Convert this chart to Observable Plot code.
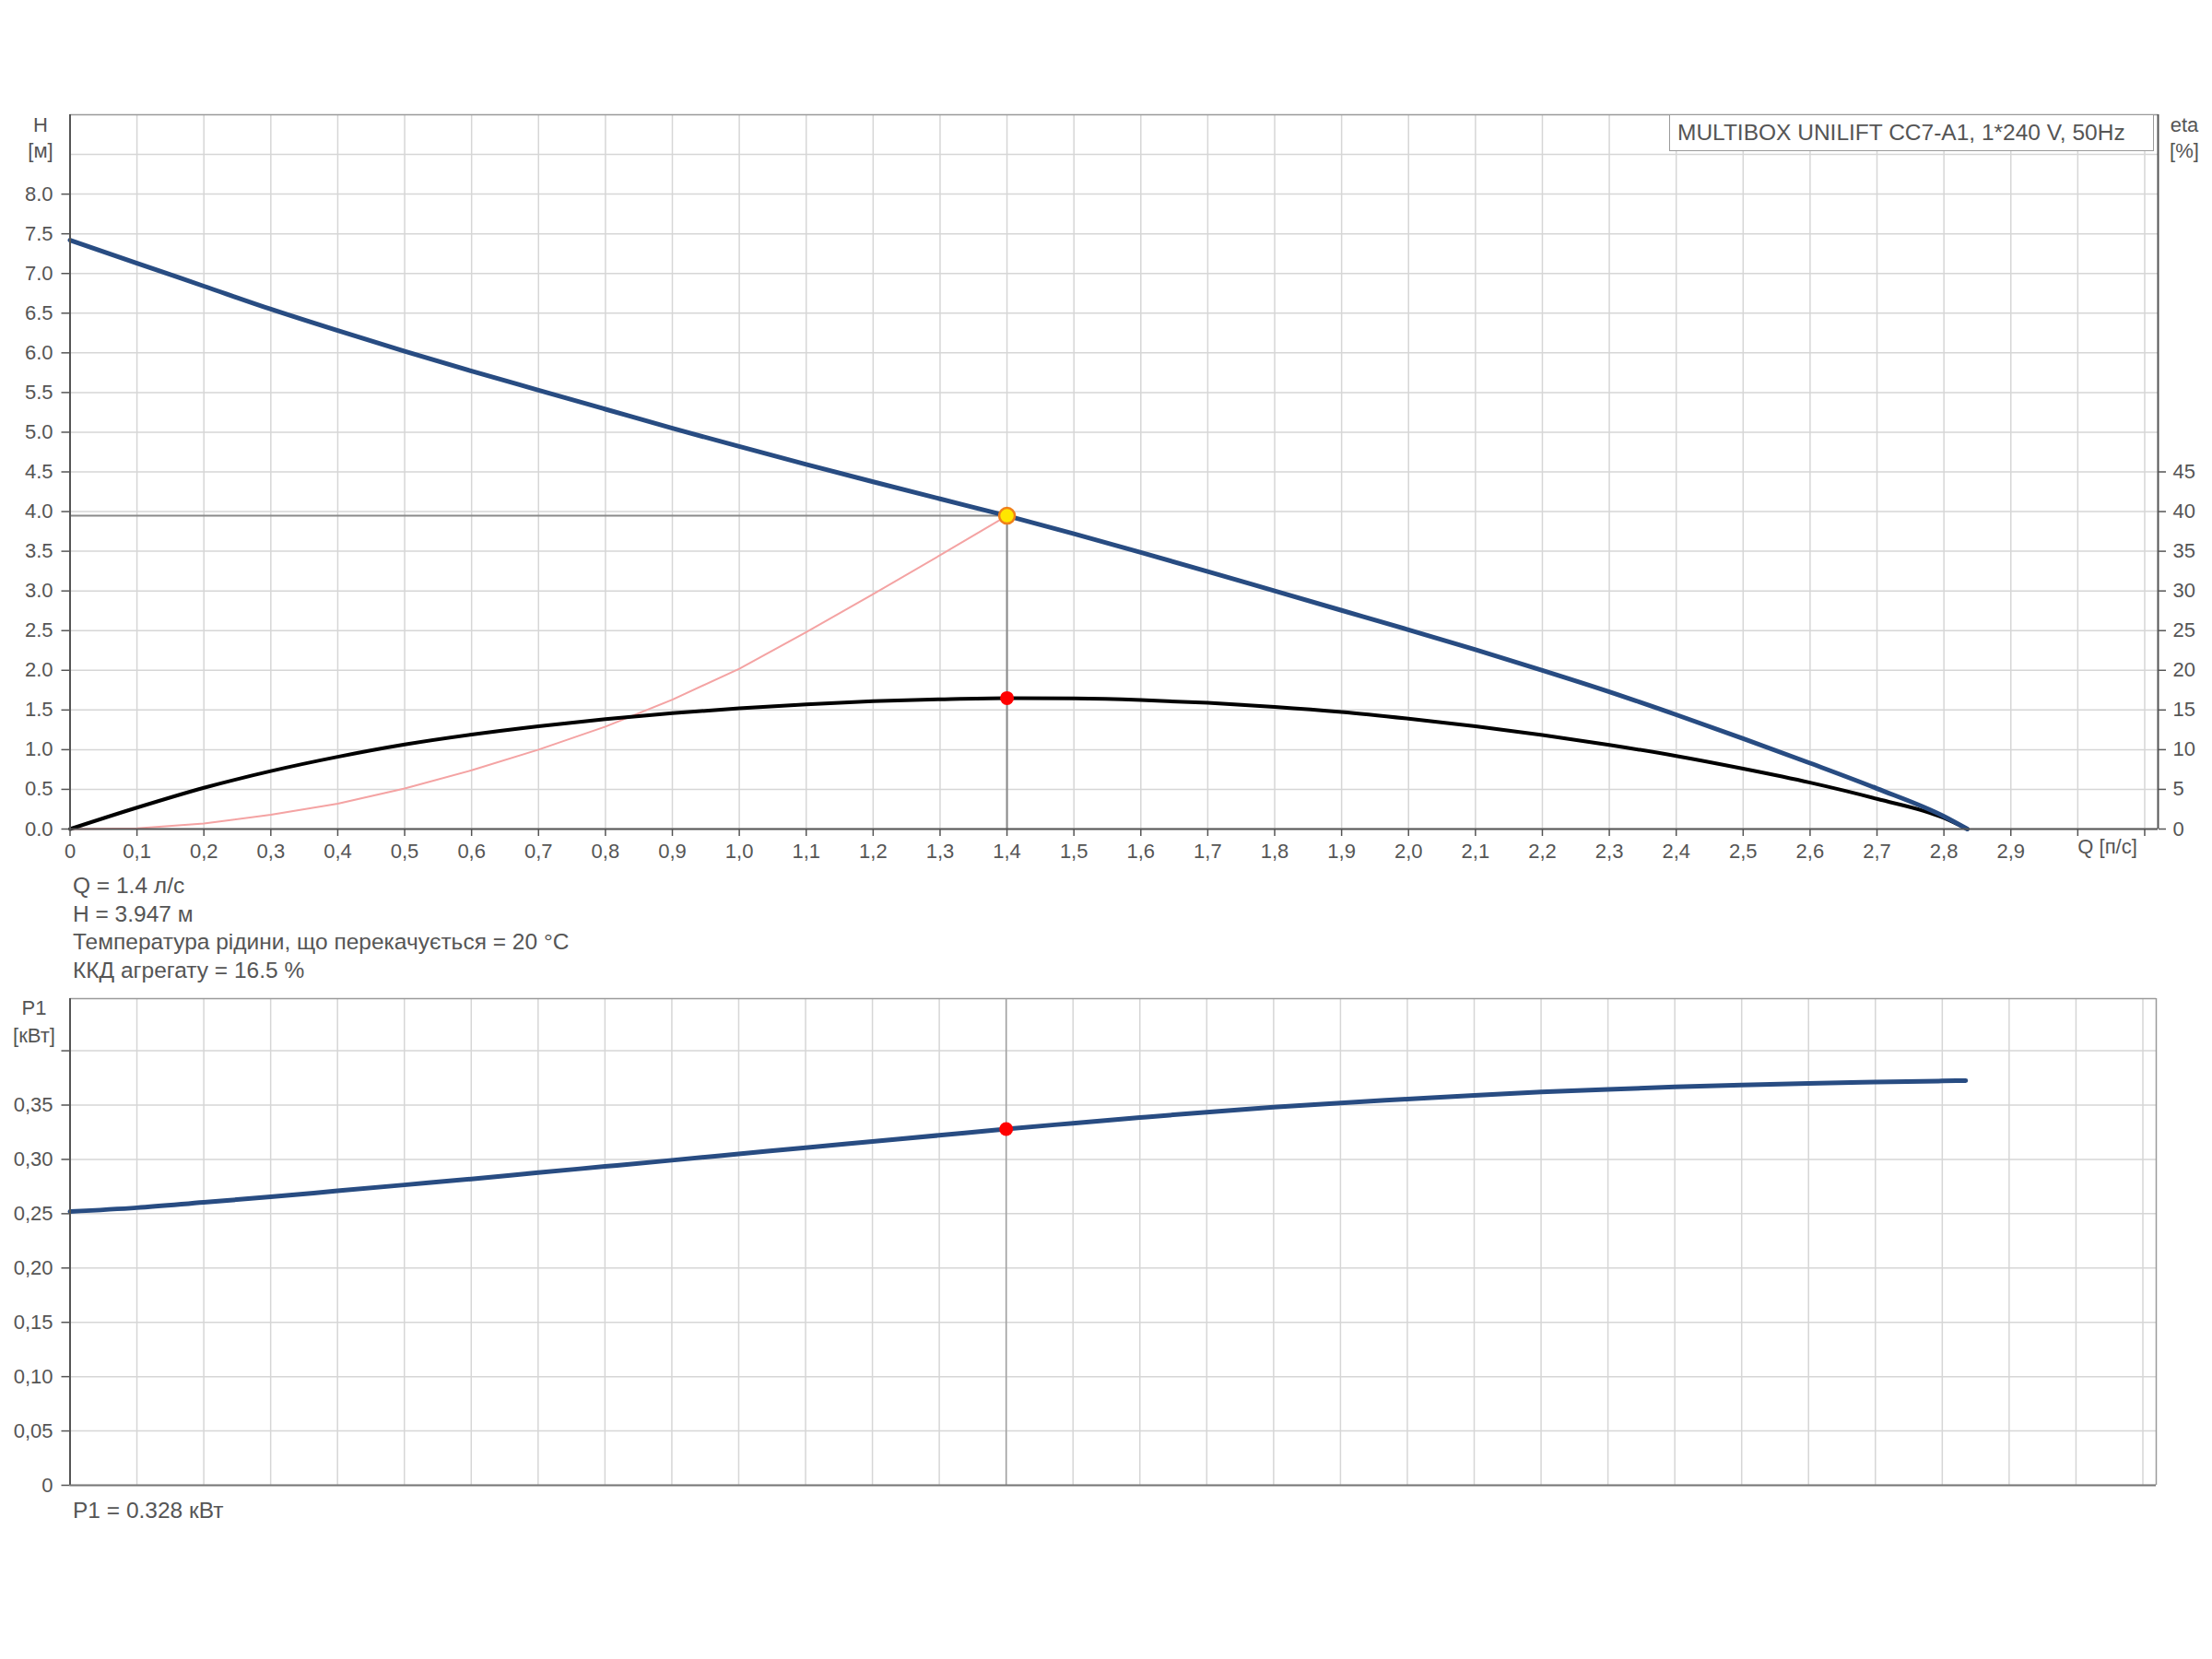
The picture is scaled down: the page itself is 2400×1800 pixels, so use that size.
<!DOCTYPE html>
<html><head><meta charset="utf-8">
<script src="https://cdn.jsdelivr.net/npm/d3@7"></script>
<script src="https://cdn.jsdelivr.net/npm/@observablehq/plot@0.6"></script>
<style>
body{margin:0;background:#fff;width:2400px;height:1800px;position:relative;font-family:"Liberation Sans",Arial,sans-serif;color:#555;overflow:hidden}
.abs{position:absolute;white-space:nowrap}
.c{transform:translate(-50%,-50%);line-height:1;font-size:22px}
.info{font-size:24.5px;line-height:1;transform:translateY(-50%)}
</style></head><body>
<div id="topHost" class="abs" style="left:0;top:0"></div>
<div id="bottomHost" class="abs" style="left:0;top:1040px"></div>
<script>
// ---- data ----
const qH   = [0,0.1,0.2,0.3,0.4,0.5,0.6,0.7,0.8,0.9,1.0,1.1,1.2,1.3,1.4,1.5,1.6,1.7,1.8,1.9,2.0,2.1,2.2,2.3,2.4,2.5,2.6,2.7,2.8,2.835];
const headH = [7.42,7.13,6.84,6.55,6.28,6.02,5.77,5.53,5.29,5.05,4.82,4.595,4.375,4.16,3.947,3.72,3.485,3.245,3.00,2.755,2.51,2.26,2.00,1.73,1.44,1.14,0.83,0.51,0.16,0];
const etaPct = [0,2.7,5.2,7.3,9.1,10.65,11.9,12.95,13.85,14.6,15.2,15.7,16.1,16.35,16.5,16.45,16.25,15.9,15.4,14.75,13.9,12.95,11.85,10.6,9.2,7.6,5.85,3.8,1.4,0];
const p1kW  = [0.252,0.2555,0.2605,0.2655,0.271,0.2765,0.282,0.2878,0.2935,0.2992,0.305,0.3108,0.3165,0.3222,0.328,0.3333,0.3385,0.3435,0.348,0.352,0.3555,0.359,0.362,0.3645,0.3667,0.3685,0.370,0.3712,0.3722,0.3725];
const qSys  = [0,0.1,0.2,0.3,0.4,0.5,0.6,0.7,0.8,0.9,1.0,1.1,1.2,1.3,1.4];
const hSys  = [0,0.01,0.07,0.18,0.32,0.51,0.74,1.0,1.29,1.63,2.02,2.48,2.96,3.45,3.947];
const opQ = 1.4, opH = 3.947, opEta = 16.5, opP1 = 0.328;

const xTicks = [0,0.1,0.2,0.3,0.4,0.5,0.6,0.7,0.8,0.9,1.0,1.1,1.2,1.3,1.4,1.5,1.6,1.7,1.8,1.9,2.0,2.1,2.2,2.3,2.4,2.5,2.6,2.7,2.8,2.9,3.0,3.1];
const hTicks = [0,0.5,1,1.5,2,2.5,3,3.5,4,4.5,5,5.5,6,6.5,7,7.5,8];
const hGrid  = [0,0.5,1,1.5,2,2.5,3,3.5,4,4.5,5,5.5,6,6.5,7,7.5,8,8.5];
const etaTicks = [0,5,10,15,20,25,30,35,40,45];
const pTicks = [0,0.05,0.10,0.15,0.20,0.25,0.30,0.35,0.40];
const qAxisLabel = "Q [п/с]";

const curveData = qH.map((q,i)=>({q, h:headH[i], eta:etaPct[i], p:p1kW[i]}));
const sysData = qSys.map((q,i)=>({q, h:hSys[i]}));

const FONT = '"Liberation Sans", Arial, sans-serif';
const GRID = "#d6d6d6", AXIS = "#555", BLUE = "#284c82";
const xDomain = [0, 3.12];
const comma = d => d===0 ? "0" : d.toFixed(1).replace(".", ",");

const topChart = Plot.plot({
  width: 2400, height: 950,
  marginLeft: 75.5, marginRight: 59, marginTop: 124, marginBottom: 51,
  style: {fontFamily: FONT, fontSize: "22px", color: "#555", background: "transparent", overflow: "visible"},
  x: {domain: xDomain, axis: null},
  y: {domain: [0, 9], axis: null},
  marks: [
    Plot.gridX(xTicks, {stroke: GRID, strokeOpacity: 1, strokeWidth: 1.5}),
    Plot.gridY(hGrid, {stroke: GRID, strokeOpacity: 1, strokeWidth: 1.5}),
    Plot.ruleY([9], {stroke: "#9a9a9a", strokeWidth: 1.5}),
    Plot.ruleY([opH], {x1: 0, x2: opQ, stroke: "#8a8a8a", strokeWidth: 2}),
    Plot.ruleX([opQ], {y1: 0, y2: opH, stroke: "#8a8a8a", strokeWidth: 2}),
    Plot.line(sysData, {x: "q", y: "h", stroke: "#f4a3a3", strokeWidth: 2}),
    Plot.line(curveData, {x: "q", y: d => d.eta/10, stroke: "#000", strokeWidth: 4, curve: "monotone-x"}),
    Plot.line(curveData, {x: "q", y: "h", stroke: BLUE, strokeWidth: 5, curve: "monotone-x"}),
    Plot.ruleX([0], {stroke: AXIS, strokeWidth: 2}),
    Plot.ruleX([xDomain[1]], {stroke: AXIS, strokeWidth: 2}),
    Plot.ruleY([0], {stroke: AXIS, strokeWidth: 2}),
    Plot.dot([{q: opQ, v: opEta/10}], {x: "q", y: "v", r: 7.5, fill: "#ff0000", stroke: "none"}),
    Plot.dot([{q: opQ, v: opH}], {x: "q", y: "v", r: 8.5, fill: "#ffe600", stroke: "#f0801a", strokeWidth: 2.5}),
    Plot.axisY(hTicks, {anchor: "left", label: null, tickSize: 9, tickPadding: 9.5, tickFormat: d => d.toFixed(1), stroke: AXIS, strokeWidth: 1.5}),
    Plot.axisY(etaTicks.map(v => v/10), {anchor: "right", label: null, tickSize: 8, tickPadding: 8, tickFormat: d => String(Math.round(d*10)), stroke: AXIS, strokeWidth: 1.5}),
    Plot.axisX(xTicks, {anchor: "bottom", label: null, tickSize: 8, tickPadding: 8, tickFormat: d => d > 2.95 ? "" : comma(d), stroke: AXIS, strokeWidth: 1.5}),
    Plot.text([3.0], {x: d => d, text: () => qAxisLabel, frameAnchor: "bottom", dy: 26, textAnchor: "start", fontSize: 22, fill: "#555"})
  ]
});
document.getElementById("topHost").appendChild(topChart);

const bottomChart = Plot.plot({
  width: 2400, height: 660,
  marginLeft: 75.5, marginRight: 61, marginTop: 43, marginBottom: 89,
  style: {fontFamily: FONT, fontSize: "22px", color: "#555", background: "transparent", overflow: "visible"},
  x: {domain: xDomain, axis: null},
  y: {domain: [0, 0.448], axis: null},
  marks: [
    Plot.gridX(xTicks, {stroke: GRID, strokeOpacity: 1, strokeWidth: 1.5}),
    Plot.gridY(pTicks, {stroke: GRID, strokeOpacity: 1, strokeWidth: 1.5}),
    Plot.ruleY([0.448], {stroke: "#9a9a9a", strokeWidth: 1.5}),
    Plot.ruleX([xDomain[1]], {stroke: "#9a9a9a", strokeWidth: 1.5}),
    Plot.ruleX([opQ], {stroke: "#a0a0a0", strokeWidth: 1.5}),
    Plot.line(curveData, {x: "q", y: "p", stroke: BLUE, strokeWidth: 5, curve: "monotone-x"}),
    Plot.ruleX([0], {stroke: AXIS, strokeWidth: 2}),
    Plot.ruleY([0], {stroke: "#777", strokeWidth: 2}),
    Plot.dot([{q: opQ, v: opP1}], {x: "q", y: "v", r: 7.5, fill: "#ff0000", stroke: "none"}),
    Plot.axisY(pTicks, {anchor: "left", label: null, tickSize: 9, tickPadding: 9.5, tickFormat: d => d === 0 ? "0" : d > 0.375 ? "" : d.toFixed(2).replace(".", ","), stroke: AXIS, strokeWidth: 1.5})
  ]
});
document.getElementById("bottomHost").appendChild(bottomChart);

// ---- texts ----
const texts = [
  {t: "H", x: 44, y: 136, cls: "c"},
  {t: "[м]", x: 44, y: 164, cls: "c"},
  {t: "eta", x: 2370, y: 136, cls: "c"},
  {t: "[%]", x: 2370, y: 164, cls: "c"},
  {t: "P1", x: 37, y: 1094, cls: "c"},
  {t: "[кВт]", x: 37, y: 1124, cls: "c"},
  {t: "Q = 1.4 л/с", x: 79, y: 961, cls: "info"},
  {t: "H = 3.947 м", x: 79, y: 992, cls: "info"},
  {t: "Температура рідини, що перекачується = 20 °C", x: 79, y: 1022, cls: "info"},
  {t: "ККД агрегату = 16.5 %", x: 79, y: 1053, cls: "info"},
  {t: "P1 = 0.328 кВт", x: 79, y: 1639, cls: "info"}
];
for (const o of texts) {
  const d = document.createElement("div");
  d.className = "abs " + o.cls;
  d.style.left = o.x + "px"; d.style.top = o.y + "px";
  d.textContent = o.t;
  document.body.appendChild(d);
}
const box = document.createElement("div");
box.className = "abs";
Object.assign(box.style, {left: "1811px", top: "124px", width: "526px", height: "40px", boxSizing: "border-box",
  border: "1.5px solid #9a9a9a", background: "#fff", fontSize: "24.5px", lineHeight: "37px", paddingLeft: "8px", color: "#555"});
box.textContent = "MULTIBOX UNILIFT CC7-A1, 1*240 V, 50Hz";
document.body.appendChild(box);
</script>
</body></html>
